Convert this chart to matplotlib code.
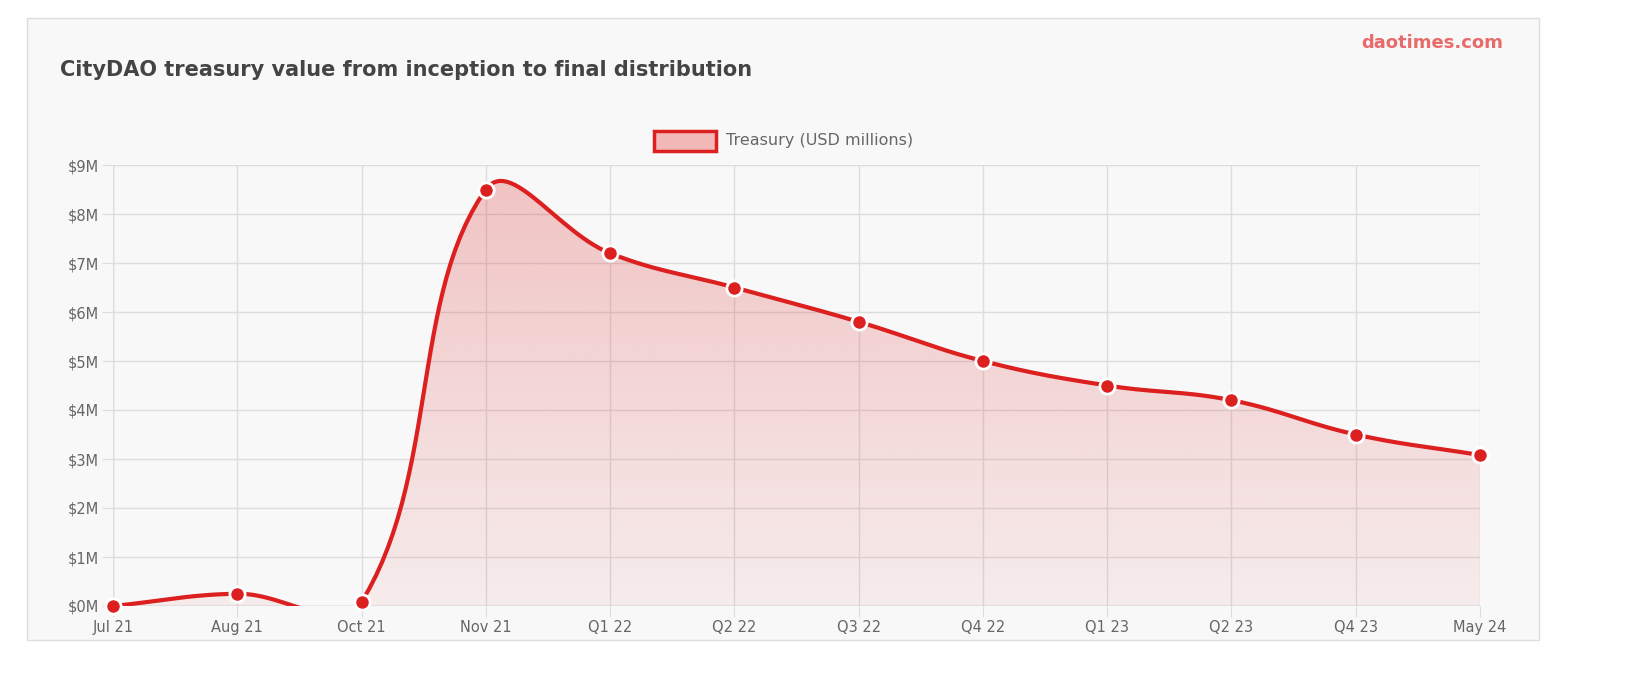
import matplotlib.pyplot as plt
import numpy as np
from matplotlib.patches import Rectangle, Polygon

labels = ["Jul 21", "Aug 21", "Oct 21", "Nov 21", "Q1 22", "Q2 22", "Q3 22",
          "Q4 22", "Q1 23", "Q2 23", "Q4 23", "May 24"]
treasury = [0.0, 0.25, 0.08, 8.5, 7.2, 6.5, 5.8, 5.0, 4.5, 4.2, 3.5, 3.08]

RED = "#dc1f1f"
W, H = 1639, 676
L, R, T, B = 113, 1480, 165, 606


def spline_path(xs, ys, sx, sy, t=0.4, n=30):
    # Chart.js style bezier (tension 0.4), control points in pixel space
    px = np.array(xs) * sx
    py = np.array(ys) * sy
    m = len(px)
    cps = []
    for i in range(m):
        p0 = (px[max(i - 1, 0)], py[max(i - 1, 0)])
        p1 = (px[i], py[i])
        p2 = (px[min(i + 1, m - 1)], py[min(i + 1, m - 1)])
        d01 = np.hypot(p1[0] - p0[0], p1[1] - p0[1])
        d12 = np.hypot(p2[0] - p1[0], p2[1] - p1[1])
        tot = d01 + d12 if d01 + d12 else 1
        fa, fb = t * d01 / tot, t * d12 / tot
        dx, dy = p2[0] - p0[0], p2[1] - p0[1]
        cps.append(((p1[0] - fa * dx, p1[1] - fa * dy), (p1[0] + fb * dx, p1[1] + fb * dy)))
    ox, oy = [], []
    u = np.linspace(0, 1, n)
    for i in range(m - 1):
        a = np.array([px[i], py[i]])
        b = np.array(cps[i][1])
        c = np.array(cps[i + 1][0])
        d = np.array([px[i + 1], py[i + 1]])
        pts = ((1 - u) ** 3)[:, None] * a + (3 * (1 - u) ** 2 * u)[:, None] * b \
            + (3 * (1 - u) * u ** 2)[:, None] * c + (u ** 3)[:, None] * d
        ox.extend(pts[:, 0])
        oy.extend(pts[:, 1])
    return np.array(ox) / sx, np.array(oy) / sy


fig = plt.figure(figsize=(W / 100, H / 100), dpi=100)
fig.patch.set_facecolor("white")
card = Rectangle((27 / W, 36 / H), 1512 / W, 622 / H, transform=fig.transFigure,
                 facecolor="#f8f8f8", edgecolor="#dddddd", lw=1, zorder=-10)
fig.patches.append(card)

ax = fig.add_axes([L / W, (H - B) / H, (R - L) / W, (B - T) / H])
ax.set_facecolor("none")
x = np.arange(len(labels))
sx = (R - L) / (len(labels) - 1)
sy = (B - T) / 9
cx, cy = spline_path(x, treasury, sx, sy)

# gradient fill under curve: stronger at top, fading to bottom
g = np.linspace(0, 1, 256)  # 0 bottom -> 1 top
img_data = np.zeros((256, 1, 4))
img_data[..., 0] = 220 / 255
img_data[..., 1] = 40 / 255
img_data[..., 2] = 40 / 255
img_data[:, 0, 3] = 0.06 + 0.2 * g
img = ax.imshow(img_data, extent=[0, len(labels) - 1, 0, 9], aspect="auto",
                origin="lower", zorder=1, interpolation="bilinear")
poly = Polygon(np.column_stack([np.r_[cx, cx[-1], cx[0]], np.r_[cy, 0, 0]]), closed=True,
               facecolor="none", edgecolor="none", transform=ax.transData)
ax.add_patch(poly)
img.set_clip_path(poly)

ax.plot(cx, cy, color=RED, lw=3, zorder=3, solid_capstyle="round")
ax.plot(x, treasury, "o", color=RED, markersize=11, markeredgecolor="white",
        markeredgewidth=2, zorder=4, clip_on=False)

ax.set_xlim(0, len(labels) - 1)
ax.set_ylim(0, 9)
ax.set_xticks(x)
ax.set_xticklabels(labels)
ax.set_yticks(range(10))
ax.set_yticklabels([f"${v}M" for v in range(10)])
ax.grid(True, color="#dddddd", lw=1, zorder=0)
ax.set_axisbelow(True)
for s in ax.spines.values():
    s.set_visible(False)
ax.axhline(0, color="#bbbbbb", lw=1, zorder=2)
ax.axvline(0, color="#cccccc", lw=1, zorder=0)
ax.tick_params(length=8, color="#dddddd", labelcolor="#666666", labelsize=10.5, pad=2)

fig.text(60 / W, 1 - 70 / H, "CityDAO treasury value from inception to final distribution",
         fontsize=15, fontweight="bold", color="#444444", va="center")
fig.text(1503 / W, 1 - 43 / H, "daotimes.com", fontsize=13, fontweight="bold",
         color="#e86a6a", va="center", ha="right")
fig.patches.append(Rectangle((654 / W, 1 - 151 / H), 62 / W, 20 / H, transform=fig.transFigure,
                             facecolor="#f2b8b8", edgecolor=RED, lw=2.5))
fig.text(726 / W, 1 - 140 / H, "Treasury (USD millions)", fontsize=11.5, color="#666666", va="center")

fig.savefig("out.png", dpi=100)
